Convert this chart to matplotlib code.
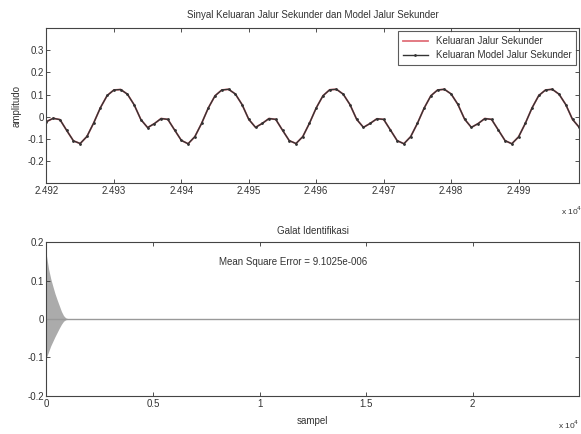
import numpy as np
import matplotlib
matplotlib.use("Agg")
import matplotlib.pyplot as plt

plt.rcParams['font.family'] = ['Liberation Sans', 'DejaVu Sans']
plt.rcParams['font.size'] = 7

# sample index for the zoomed window (top panel)
sampel_atas = np.arange(24920, 25000)

# secondary path output (period ~16 samples)
keluaran_jalur = [
    -0.022, -0.007, -0.013, -0.062, -0.109, -0.121, -0.089, -0.028,
    0.041, 0.096, 0.121, 0.123, 0.102, 0.054, -0.013, -0.049,
    -0.031, -0.008, -0.012, -0.060, -0.107, -0.122, -0.090, -0.030,
    0.040, 0.095, 0.121, 0.124, 0.103, 0.055, -0.012, -0.048,
    -0.030, -0.008, -0.012, -0.061, -0.108, -0.121, -0.090, -0.029,
    0.040, 0.095, 0.122, 0.124, 0.102, 0.055, -0.012, -0.048,
    -0.030, -0.009, -0.012, -0.060, -0.108, -0.122, -0.090, -0.030,
    0.039, 0.095, 0.121, 0.124, 0.103, 0.056, -0.011, -0.048,
    -0.031, -0.008, -0.012, -0.060, -0.108, -0.122, -0.091, -0.030,
    0.040, 0.096, 0.121, 0.124, 0.102, 0.055, -0.012, -0.048,
]
# model output overlaps the real output
keluaran_model = list(keluaran_jalur)

# identification error envelope (bottom panel)
galat_sampel = [0, 100, 200, 300, 400, 500, 600, 700, 800, 900, 1000, 25000]
galat_atas = [0.165, 0.13, 0.105, 0.085, 0.066, 0.05, 0.035, 0.02, 0.009, 0.003, 0.001, 0.0]
galat_bawah = [-0.10, -0.085, -0.07, -0.058, -0.046, -0.035, -0.024, -0.014, -0.006, -0.002, -0.001, 0.0]

xtick_atas = [24920, 24930, 24940, 24950, 24960, 24970, 24980, 24990]
xlabel_atas = ['2.492', '2.493', '2.494', '2.495', '2.496', '2.497', '2.498', '2.499']
ytick_atas = [-0.2, -0.1, 0, 0.1, 0.2, 0.3]
ylabel_atas = ['-0.2', '-0.1', '0', '0.1', '0.2', '0.3']

xtick_bawah = [0, 5000, 10000, 15000, 20000]
xlabel_bawah = ['0', '0.5', '1', '1.5', '2']
ytick_bawah = [-0.2, -0.1, 0, 0.1, 0.2]
ylabel_bawah = ['-0.2', '-0.1', '0', '0.1', '0.2']

fig = plt.figure(figsize=(5.81, 4.34), dpi=100)
ax1 = fig.add_axes([0.080, 0.578, 0.917, 0.357])
ax2 = fig.add_axes([0.080, 0.088, 0.917, 0.354])

for ax in (ax1, ax2):
    ax.tick_params(direction='in', top=True, right=True, length=3, width=0.6, pad=2,
                   colors='#333333')
    for s in ax.spines.values():
        s.set_linewidth(0.8)
        s.set_color('#444444')

# top panel
ax1.plot(sampel_atas, keluaran_jalur, color='#e0707a', lw=1.3, label='Keluaran Jalur Sekunder')
ax1.plot(sampel_atas, keluaran_model, color='#333333', lw=1.0, marker='.', markersize=2,
         label='Keluaran Model Jalur Sekunder')
ax1.set_xlim(24920, 24999)
ax1.set_ylim(-0.3, 0.4)
ax1.set_xticks(xtick_atas)
ax1.set_xticklabels(xlabel_atas)
ax1.set_yticks(ytick_atas)
ax1.set_yticklabels(ylabel_atas)
ax1.set_ylabel('amplitudo', labelpad=4, color='#333333')
ax1.set_title('Sinyal Keluaran Jalur Sekunder dan Model Jalur Sekunder', fontsize=7, pad=7,
              color='#333333')
leg = ax1.legend(loc='upper right', fontsize=7, fancybox=False, edgecolor='#333333',
                 borderaxespad=0.3, handlelength=2.6, borderpad=0.5, labelspacing=0.45)
leg.get_frame().set_linewidth(0.8)
for t in leg.get_texts():
    t.set_color('#333333')
fig.text(0.965, 0.505, r'x 10$^4$', fontsize=6, color='#333333')

# bottom panel
ax2.fill_between(galat_sampel, galat_bawah, galat_atas, color='#ababab', lw=0)
ax2.plot(galat_sampel, [0] * len(galat_sampel), color='#999999', lw=1.0)
ax2.set_xlim(0, 25000)
ax2.set_ylim(-0.2, 0.2)
ax2.set_xticks(xtick_bawah)
ax2.set_xticklabels(xlabel_bawah)
ax2.set_yticks(ytick_bawah)
ax2.set_yticklabels(ylabel_bawah)
ax2.set_xlabel('sampel', labelpad=5, color='#333333')
ax2.set_title('Galat Identifikasi', fontsize=7, pad=6, color='#333333')
ax2.text(8100, 0.148, 'Mean Square Error = 9.1025e-006', fontsize=7, va='center',
         color='#333333')
fig.text(0.960, 0.012, r'x 10$^4$', fontsize=6, color='#333333')

fig.savefig('out.png', dpi=100)
